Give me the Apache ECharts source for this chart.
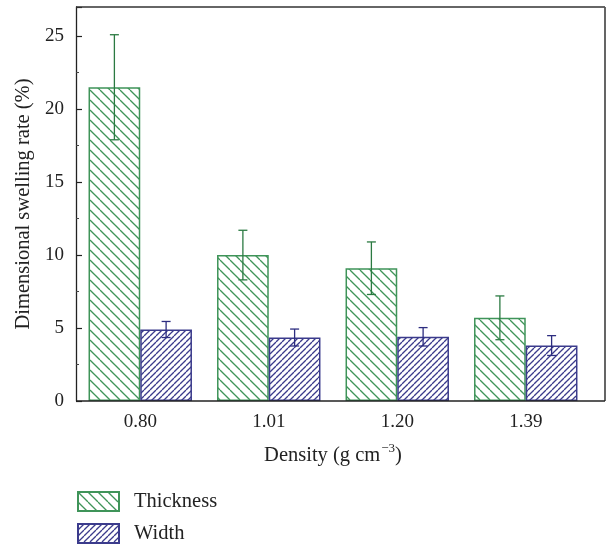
<!DOCTYPE html>
<html>
<head>
<meta charset="utf-8">
<script src="https://cdn.jsdelivr.net/npm/echarts@6/dist/echarts.min.js"></script>
<style>html,body{margin:0;padding:0;background:#fff;}#c{width:607px;height:548px;}</style>
</head>
<body>
<div id="c"></div>
<script>
var categories = ['0.80', '1.01', '1.20', '1.39'];
var thickness = [21.5, 10.0, 9.1, 5.7];
var thicknessErr = [3.6, 1.7, 1.8, 1.5];
var width = [4.9, 4.35, 4.4, 3.8];
var widthErr = [0.55, 0.58, 0.63, 0.68];

var GREEN = '#3f9459';
var GREEN_DARK = '#2b7a42';
var BLUE = '#3b3b8c';
var BLUE_DARK = '#2d2d80';
var FONT = 'Liberation Serif';

function hatch(color, size, dir, lw) {
  var c = document.createElement('canvas');
  c.width = size; c.height = size;
  var g = c.getContext('2d');
  g.fillStyle = '#fff';
  g.fillRect(0, 0, size, size);
  g.strokeStyle = color;
  g.lineWidth = lw;
  for (var k = -1; k <= 1; k++) {
    g.beginPath();
    if (dir === 'back') {
      g.moveTo(k * size, 0); g.lineTo(k * size + size, size);
    } else {
      g.moveTo(k * size, size); g.lineTo(k * size + size, 0);
    }
    g.stroke();
  }
  return c;
}

var CAT_GAP = 0.195;

function errData(vals, errs) {
  return vals.map(function (v, i) { return [i, v - errs[i], v + errs[i]]; });
}

function errRender(sideSign, color) {
  return function (params, api) {
    var i = api.value(0);
    var lo = api.coord([i, api.value(1)]);
    var hi = api.coord([i, api.value(2)]);
    var bw = api.size([1, 0])[0];
    var barW = bw * (1 - CAT_GAP) / 2;
    var x = lo[0] + sideSign * barW / 2;
    var cap = 4.5;
    var style = { stroke: color, lineWidth: 1.3 };
    return {
      type: 'group',
      children: [
        { type: 'line', shape: { x1: x, y1: lo[1], x2: x, y2: hi[1] }, style: style },
        { type: 'line', shape: { x1: x - cap, y1: lo[1], x2: x + cap, y2: lo[1] }, style: style },
        { type: 'line', shape: { x1: x - cap, y1: hi[1], x2: x + cap, y2: hi[1] }, style: style }
      ]
    };
  };
}

var chart = echarts.init(document.getElementById('c'), null, { renderer: 'canvas' });
chart.setOption({
  animation: false,
  backgroundColor: '#fff',
  textStyle: { fontFamily: FONT, color: '#222' },
  grid: { left: 76, right: 17, top: 7, bottom: 147, containLabel: false },
  legend: {
    orient: 'vertical',
    left: 77, top: 491,
    padding: 0,
    icon: 'rect',
    itemWidth: 41, itemHeight: 19, itemGap: 11,
    textStyle: { fontFamily: FONT, fontSize: 20.5, color: '#222', padding: [3, 0, 0, 10] },
    data: ['Thickness', 'Width']
  },
  xAxis: {
    type: 'category',
    data: categories,
    name: 'Density (g cm{sup|\u22123})',
    nameLocation: 'middle',
    nameGap: 41,
    nameTextStyle: {
      fontFamily: FONT, fontSize: 20.5, color: '#222',
      rich: { sup: { fontFamily: FONT, fontSize: 13, verticalAlign: 'top', padding: [0, 0, 14, 1], color: '#222' } }
    },
    axisLine: { show: false },
    axisTick: { show: false },
    axisLabel: { fontFamily: FONT, fontSize: 19, color: '#222', margin: 12 },
    splitLine: { show: false }
  },
  yAxis: {
    type: 'value',
    min: 0, max: 27, interval: 5,
    name: 'Dimensional swelling rate (%)',
    nameLocation: 'middle',
    nameGap: 41,
    nameTextStyle: { fontFamily: FONT, fontSize: 20.5, color: '#222' },
    axisLine: { show: true, lineStyle: { color: '#222', width: 1.3 } },
    axisTick: { show: true, inside: true, length: 6, lineStyle: { color: '#222', width: 1.2 } },
    minorTick: { show: true, splitNumber: 2, length: 3, lineStyle: { color: '#444', width: 1 } },
    axisLabel: {
      fontFamily: FONT, fontSize: 19, color: '#222', margin: 12, showMaxLabel: false,
      formatter: function (v) { return v % 5 === 0 ? String(v) : ''; }
    },
    splitLine: { show: false }
  },
  graphic: [
    { type: 'line', shape: { x1: 76, y1: 7, x2: 605, y2: 7 }, style: { stroke: '#333', lineWidth: 1.5 }, z: 100 },
    { type: 'line', shape: { x1: 605, y1: 7, x2: 605, y2: 401 }, style: { stroke: '#555', lineWidth: 1.8 }, z: 100 },
    { type: 'line', shape: { x1: 76, y1: 401, x2: 605, y2: 401 }, style: { stroke: '#222', lineWidth: 1.5 }, z: 100 }
  ],
  series: [
    {
      name: 'Thickness', type: 'bar', data: thickness,
      barGap: '0%', barCategoryGap: (CAT_GAP * 100) + '%',
      itemStyle: { color: { image: hatch(GREEN, 10, 'back', 1.3), repeat: 'repeat' }, borderColor: GREEN, borderWidth: 1.5 }
    },
    {
      name: 'Width', type: 'bar', data: width,
      barGap: '0%', barCategoryGap: (CAT_GAP * 100) + '%',
      itemStyle: { color: { image: hatch(BLUE, 6, 'fwd', 1.3), repeat: 'repeat' }, borderColor: BLUE, borderWidth: 1.5 }
    },
    {
      type: 'custom', name: 'ThicknessErr', data: errData(thickness, thicknessErr),
      encode: { x: 0, y: [1, 2] }, renderItem: errRender(-1, GREEN_DARK), z: 10
    },
    {
      type: 'custom', name: 'WidthErr', data: errData(width, widthErr),
      encode: { x: 0, y: [1, 2] }, renderItem: errRender(1, BLUE_DARK), z: 10
    }
  ]
});
</script>
</body>
</html>
